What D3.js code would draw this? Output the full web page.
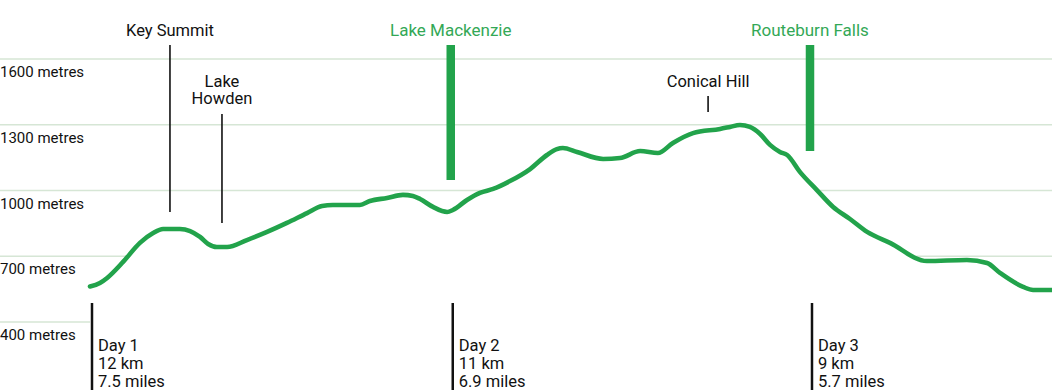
<!DOCTYPE html>
<html>
<head>
<meta charset="utf-8">
<script src="https://cdn.jsdelivr.net/npm/d3@7/dist/d3.min.js"></script>
<style>
  html, body { margin: 0; padding: 0; background: #fff; }
  svg { display: block; }
  text { font-family: Roboto, "Noto Sans", sans-serif; }
</style>
</head>
<body>
<div id="chart"></div>
<script>
// ---- data ----
// distance along the track (km, as drawn) and elevation (metres)
const distanceKm = [0, 0.33, 0.57, 1.10, 1.66, 2.10, 2.43, 2.99, 3.33, 3.66, 3.93, 4.22, 4.56, 5.22, 5.89, 6.55, 7.22, 7.72, 8.08, 8.98, 9.31, 9.88, 10.41, 10.74, 10.98, 11.41, 11.88, 12.07, 12.54, 12.97, 13.41, 13.97, 14.64, 15.20, 15.53, 15.73, 16.20, 17.07, 17.63, 18.30, 18.89, 19.39, 20.06, 20.96, 21.29, 21.62, 21.95, 22.29, 22.62, 22.95, 23.19, 23.62, 24.18, 24.72, 25.28, 25.85, 26.61, 27.84, 29.17, 29.84, 30.27, 31.04, 31.37, 32];
const elevationM = [562, 578, 601, 674, 761, 806, 824, 824, 815, 788, 756, 742, 742, 774, 811, 852, 897, 929, 934, 934, 952, 966, 980, 975, 961, 925, 902, 911, 957, 989, 1007, 1043, 1098, 1162, 1189, 1194, 1176, 1144, 1148, 1180, 1171, 1217, 1262, 1281, 1290, 1299, 1290, 1258, 1208, 1176, 1162, 1084, 1002, 925, 870, 811, 761, 678, 683, 669, 624, 560, 546, 546];

const gridValues = [1600, 1300, 1000, 700, 400];
const gridLabels = ["1600 metres", "1300 metres", "1000 metres", "700 metres", "400 metres"];

const dayNames = ["Day 1", "Day 2", "Day 3"];
const dayKm = [0, 12, 23.95];
const dayDistance = ["12 km", "11 km", "9 km"];
const dayMiles = ["7.5 miles", "6.9 miles", "5.7 miles"];

const hutNames = ["Lake Mackenzie", "Routeburn Falls"];
const hutKm = [12.0, 23.95];

const peakNames = [["Key Summit"], ["Lake", "Howden"], ["Conical Hill"]];
const peakKm = [2.66, 4.39, 20.56];

// ---- layout ----
const W = 1052, H = 390;
const GREEN = "#22a34b";
const GREEN_TEXT = "#33a856";
const GRID = "#d6e6d5";
const INK = "#111";

const x = d3.scaleLinear().domain([0, 32]).range([90, 1052]);
const y = d3.scaleLinear().domain([400, 1600]).range([322, 59]);

const svg = d3.select("#chart").append("svg").attr("width", W).attr("height", H);

// gridlines
svg.append("g").selectAll("line").data(gridValues).join("line")
  .attr("x1", 0).attr("x2", W)
  .attr("y1", d => y(d)).attr("y2", d => y(d))
  .attr("stroke", GRID).attr("stroke-width", 1.6);

svg.append("g").selectAll("text").data(gridValues).join("text")
  .attr("x", 0).attr("y", d => y(d) + 18)
  .attr("font-size", 15).attr("fill", INK)
  .text((d, i) => gridLabels[i]);

const pts = distanceKm.map((d, i) => [d, elevationM[i]]);

// white area under the profile hides the gridlines
const area = d3.area().x(d => x(d[0])).y0(H).y1(d => y(d[1])).curve(d3.curveMonotoneX);
svg.append("path").datum(pts).attr("d", area).attr("fill", "#fff");

const line = d3.line().x(d => x(d[0])).y(d => y(d[1])).curve(d3.curveMonotoneX);
svg.append("path").datum(pts).attr("d", line)
  .attr("fill", "none").attr("stroke", GREEN).attr("stroke-width", 4.6)
  .attr("stroke-linejoin", "round").attr("stroke-linecap", "round");

// huts (green bars)
const hutBottom = [180, 151];
hutNames.forEach((name, i) => {
  const cx = x(hutKm[i]);
  svg.append("rect").attr("x", cx - 4.25).attr("y", 45).attr("width", 8.5)
    .attr("height", hutBottom[i] - 45).attr("fill", GREEN);
  svg.append("text").attr("x", cx).attr("y", 36).attr("text-anchor", "middle")
    .attr("font-size", 17).attr("fill", GREEN_TEXT).text(name);
});

// peaks / landmarks
const peakLine = [[45, 212], [114, 223], [96, 112]];
const peakTextY = [[36], [87, 104], [87]];
peakNames.forEach((lines, i) => {
  const cx = x(peakKm[i]);
  svg.append("line").attr("x1", cx).attr("x2", cx)
    .attr("y1", peakLine[i][0]).attr("y2", peakLine[i][1])
    .attr("stroke", INK).attr("stroke-width", 1.6);
  lines.forEach((t, j) => {
    svg.append("text").attr("x", cx).attr("y", peakTextY[i][j])
      .attr("text-anchor", "middle").attr("font-size", 16.5).attr("fill", INK).text(t);
  });
});

// day markers
dayNames.forEach((name, i) => {
  const dx = x(dayKm[i]) + 2;
  svg.append("line").attr("x1", dx).attr("x2", dx).attr("y1", 303).attr("y2", H)
    .attr("stroke", INK).attr("stroke-width", 2.5);
  const t = svg.append("text").attr("font-size", 16.5).attr("fill", INK);
  [name, dayDistance[i], dayMiles[i]].forEach((s, j) => {
    t.append("tspan").attr("x", dx + 6).attr("y", 351 + j * 18).text(s);
  });
});
</script>
</body>
</html>
